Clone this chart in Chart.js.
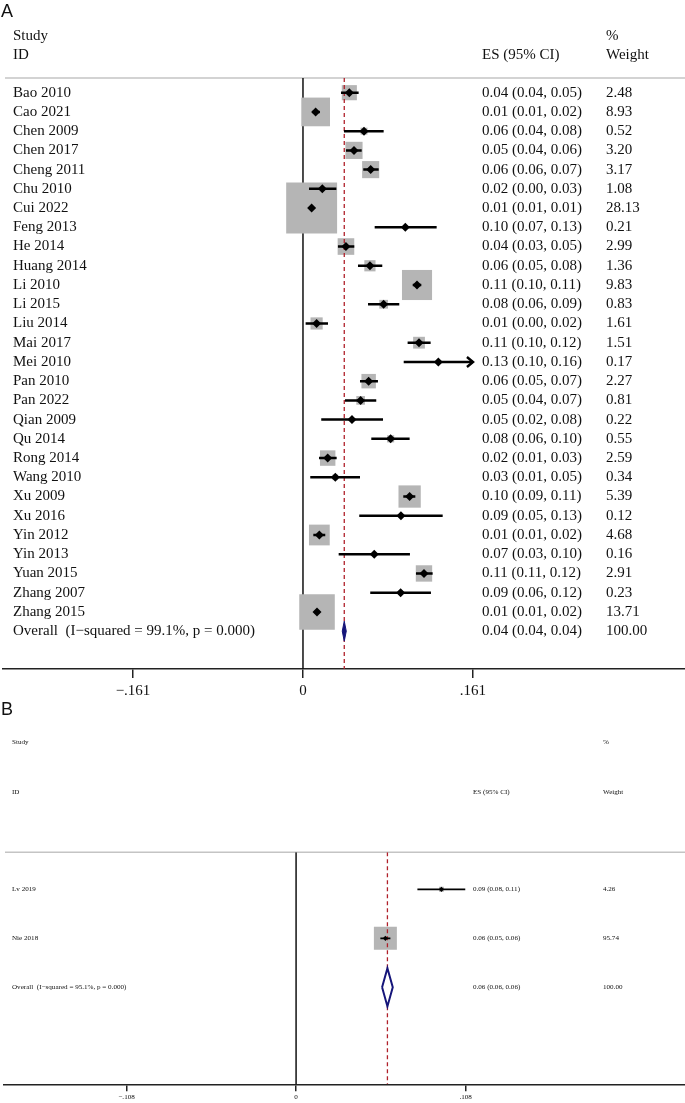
<!DOCTYPE html>
<html>
<head>
<meta charset="utf-8">
<script src="https://cdn.jsdelivr.net/npm/chart.js@4.4.1/dist/chart.umd.min.js"></script>
<style>
  body { margin: 0; background: #fff; width: 685px; height: 1103px; position: relative; overflow: hidden; }
  canvas { position: absolute; left: 0; }
  #forestA { top: 0; }
  #forestB { top: 700px; }
</style>
</head>
<body>
<canvas id="forestA" width="685" height="700"></canvas>
<canvas id="forestB" width="685" height="403"></canvas>
<script>
// ── Panel A ──
const STUDIES_A = ['Bao 2010', 'Cao 2021', 'Chen 2009', 'Chen 2017', 'Cheng 2011', 'Chu 2010', 'Cui 2022',
    'Feng 2013', 'He 2014', 'Huang 2014', 'Li 2010', 'Li 2015', 'Liu 2014', 'Mai 2017', 'Mei 2010',
    'Pan 2010', 'Pan 2022', 'Qian 2009', 'Qu 2014', 'Rong 2014', 'Wang 2010', 'Xu 2009', 'Xu 2016',
    'Yin 2012', 'Yin 2013', 'Yuan 2015', 'Zhang 2007', 'Zhang 2015'];
const ES_A = [0.0439, 0.0120, 0.0578, 0.0483, 0.0641, 0.0183, 0.0082, 0.0969, 0.0407, 0.0634, 0.1080, 0.0764,
    0.0129, 0.1099, 0.1282, 0.0622, 0.0546, 0.0464, 0.0830, 0.0234, 0.0306, 0.1010, 0.0928, 0.0155, 0.0675,
    0.1146, 0.0925, 0.0133];
const LO_A = [0.0360, 0.0090, 0.0388, 0.0407, 0.0571, 0.0057, 0.0074, 0.0679, 0.0331, 0.0521, 0.1040, 0.0616,
    0.0025, 0.0991, 0.0954, 0.0540, 0.0398, 0.0173, 0.0647, 0.0152, 0.0069, 0.0950, 0.0533, 0.0098, 0.0338,
    0.1070, 0.0637, 0.0105];
const HI_A = [0.0527, 0.0160, 0.0764, 0.0556, 0.0717, 0.0316, 0.0090, 0.1266, 0.0486, 0.0751, 0.1120, 0.0912,
    0.0237, 0.1209, 0.1630, 0.0710, 0.0694, 0.0758, 0.1010, 0.0319, 0.0540, 0.1064, 0.1323, 0.0211, 0.1013,
    0.1228, 0.1212, 0.0160];
const WEIGHT_A = [2.48, 8.93, 0.52, 3.20, 3.17, 1.08, 28.13, 0.21, 2.99, 1.36, 9.83, 0.83, 1.61, 1.51, 0.17,
    2.27, 0.81, 0.22, 0.55, 2.59, 0.34, 5.39, 0.12, 4.68, 0.16, 2.91, 0.23, 13.71];
const ES_TEXT_A = ['0.04 (0.04, 0.05)', '0.01 (0.01, 0.02)', '0.06 (0.04, 0.08)', '0.05 (0.04, 0.06)',
    '0.06 (0.06, 0.07)', '0.02 (0.00, 0.03)', '0.01 (0.01, 0.01)', '0.10 (0.07, 0.13)', '0.04 (0.03, 0.05)',
    '0.06 (0.05, 0.08)', '0.11 (0.10, 0.11)', '0.08 (0.06, 0.09)', '0.01 (0.00, 0.02)', '0.11 (0.10, 0.12)',
    '0.13 (0.10, 0.16)', '0.06 (0.05, 0.07)', '0.05 (0.04, 0.07)', '0.05 (0.02, 0.08)', '0.08 (0.06, 0.10)',
    '0.02 (0.01, 0.03)', '0.03 (0.01, 0.05)', '0.10 (0.09, 0.11)', '0.09 (0.05, 0.13)', '0.01 (0.01, 0.02)',
    '0.07 (0.03, 0.10)', '0.11 (0.11, 0.12)', '0.09 (0.06, 0.12)', '0.01 (0.01, 0.02)'];
const OVERALL_A = [0.0391, 0.0372, 0.0410];   // es, lo, hi
const OVERALL_LABEL_A = 'Overall  (I\u2212squared = 99.1%, p = 0.000)';
const OVERALL_TEXT_A = ['0.04 (0.04, 0.04)', '100.00'];
const TICKS_A = [-0.161, 0, 0.161];
const TICK_LABELS_A = ['\u2212.161', '0', '.161'];

// ── Panel B ──
const STUDIES_B = ['Lv 2019', 'Nie 2018'];
const ES_B = [0.0926, 0.0569];
const LO_B = [0.0773, 0.0537];
const HI_B = [0.1078, 0.0601];
const WEIGHT_B = [4.26, 95.74];
const ES_TEXT_B = ['0.09 (0.08, 0.11)', '0.06 (0.05, 0.06)'];
const OVERALL_B = [0.0582, 0.0548, 0.0616];
const OVERALL_LABEL_B = 'Overall  (I\u2212squared = 95.1%, p = 0.000)';
const OVERALL_TEXT_B = ['0.06 (0.06, 0.06)', '100.00'];
const TICKS_B = [-0.108, 0, 0.108];
const TICK_LABELS_B = ['\u2212.108', '0', '.108'];

const SERIF = '"Liberation Serif", "Times New Roman", serif';

// Header texts, study labels, ES/weight columns and the clipped-CI arrowheads.
const forestText = {
    id: 'forestText',
    beforeDatasetsDraw(chart, args, o) {
        const { ctx, chartArea } = chart;
        ctx.save();
        ctx.strokeStyle = '#c4c4c4';
        ctx.lineWidth = 1.5;
        ctx.beginPath();
        ctx.moveTo(o.lineLeft, chartArea.top);
        ctx.lineTo(chart.width, chartArea.top);
        ctx.stroke();
        ctx.restore();
    },
    afterDatasetsDraw(chart, args, o) {
        const { ctx, scales: { x, y } } = chart;
        ctx.save();
        ctx.fillStyle = '#111';
        ctx.textBaseline = 'middle';
        ctx.textAlign = 'left';

        ctx.font = `${o.letterSize}px "Liberation Sans", Arial, sans-serif`;
        ctx.fillText(o.letter, 1, o.letterY);

        ctx.font = `${o.fontSize}px ${SERIF}`;
        ctx.fillText('Study', o.labelX, o.headY1);
        ctx.fillText('ID', o.labelX, o.headY2);
        ctx.fillText('ES (95% CI)', o.esX, o.headY2);
        ctx.fillText('%', o.wX, o.headY1);
        ctx.fillText('Weight', o.wX, o.headY2);

        o.studies.forEach((s, i) => {
            const py = y.getPixelForValue(i);
            ctx.fillText(s, o.labelX, py);
            ctx.fillText(o.esText[i], o.esX, py);
            ctx.fillText(o.weights[i].toFixed(2), o.wX, py);
        });
        const oy = y.getPixelForValue(o.studies.length);
        ctx.fillText(o.overallLabel, o.labelX, oy);
        ctx.fillText(o.overallText[0], o.esX, oy);
        ctx.fillText(o.overallText[1], o.wX, oy);

        // arrowheads where the CI runs past the last tick
        ctx.strokeStyle = '#000';
        ctx.lineWidth = o.ciWidth;
        o.hi.forEach((h, i) => {
            if (h <= o.clip) return;
            const px = x.getPixelForValue(o.clip), py = y.getPixelForValue(i);
            ctx.beginPath();
            ctx.moveTo(px - 6, py - 5);
            ctx.lineTo(px, py);
            ctx.lineTo(px - 6, py + 5);
            ctx.stroke();
        });
        ctx.restore();
    }
};

function forestChart(id, p) {
    const n = p.studies.length;
    const ciData = [];
    p.lo.forEach((lo, i) => {
        ciData.push({ x: lo, y: i }, { x: Math.min(p.hi[i], p.clip), y: i }, { x: null, y: null });
    });
    const [oEs, oLo, oHi] = p.overall;
    const diamond = [
        { x: oLo, y: n }, { x: oEs, y: n - p.diamondHalf }, { x: oHi, y: n },
        { x: oEs, y: n + p.diamondHalf }, { x: oLo, y: n }
    ];

    return new Chart(document.getElementById(id), {
        type: 'scatter',
        data: {
            datasets: [
                {   // overall diamond
                    type: 'line', data: diamond, order: 1, pointRadius: 0, tension: 0,
                    borderColor: '#15157a', borderWidth: p.diamondBorder,
                    backgroundColor: p.diamondFill, fill: 'shape'
                },
                {   // point estimates
                    data: p.es.map((v, i) => ({ x: v, y: i })), order: 2,
                    pointStyle: 'rectRot', pointRadius: p.markerR, backgroundColor: '#000', borderWidth: 0
                },
                {   // confidence intervals
                    type: 'line', data: ciData, order: 3, pointRadius: 0, spanGaps: false,
                    borderColor: '#000', borderWidth: p.ciWidth, fill: false
                },
                {   // overall effect reference line
                    type: 'line', data: [{ x: oEs, y: p.yMin }, { x: oEs, y: p.yMax }], order: 4,
                    pointRadius: 0, borderColor: '#b0202a', borderWidth: 1.3, borderDash: [4, 3], fill: false
                },
                {   // weight boxes
                    data: p.es.map((v, i) => ({ x: v, y: i })), order: 5,
                    pointStyle: 'rect', backgroundColor: '#b5b5b5', borderWidth: 0,
                    pointRadius: p.weights.map(w => p.boxK * Math.sqrt(w) / Math.SQRT2)
                },
                {   // null line
                    type: 'line', data: [{ x: 0, y: p.yMin }, { x: 0, y: p.yMax }], order: 6,
                    pointRadius: 0, borderColor: '#111', borderWidth: 1.5, fill: false
                }
            ]
        },
        options: {
            responsive: false,
            animation: false,
            devicePixelRatio: 1,
            events: [],
            layout: { autoPadding: false, padding: { top: p.padTop, left: p.padLeft, right: 0, bottom: 0 } },
            plugins: {
                legend: { display: false },
                tooltip: { enabled: false },
                forestText: {
                    letter: p.letter, letterY: p.letterY, letterSize: 18,
                    fontSize: p.fontSize, labelX: p.labelX, esX: p.esX, wX: p.wX,
                    headY1: p.headY1, headY2: p.headY2, lineLeft: 5,
                    studies: p.studies, esText: p.esText, weights: p.weights,
                    overallLabel: p.overallLabel, overallText: p.overallText,
                    hi: p.hi, clip: p.clip, ciWidth: p.ciWidth
                }
            },
            scales: {
                x: {
                    type: 'linear', position: 'bottom', min: p.xMin, max: p.xMax,
                    afterBuildTicks: s => { s.ticks = p.ticks.map(v => ({ value: v })); },
                    afterFit: s => { s.height = p.axisHeight; s.paddingLeft = 0; s.paddingRight = 0; },
                    grid: { display: true, drawOnChartArea: false, drawTicks: true, tickLength: p.tickLen, color: '#222', lineWidth: 1.5 },
                    border: { display: true, color: '#222', width: 1.5 },
                    ticks: {
                        autoSkip: false, maxRotation: 0, padding: p.tickPad, color: '#111',
                        font: { family: SERIF, size: p.fontSize },
                        callback: (v, i) => p.tickLabels[i]
                    }
                },
                y: { type: 'linear', reverse: true, min: p.yMin, max: p.yMax, display: false }
            }
        },
        plugins: [forestText]
    });
}

forestChart('forestA', {
    letter: 'A', letterY: 12, fontSize: 15, labelX: 13, esX: 482, wX: 606, headY1: 36, headY2: 55,
    studies: STUDIES_A, es: ES_A, lo: LO_A, hi: HI_A, weights: WEIGHT_A, esText: ES_TEXT_A,
    overall: OVERALL_A, overallLabel: OVERALL_LABEL_A, overallText: OVERALL_TEXT_A,
    ticks: TICKS_A, tickLabels: TICK_LABELS_A, clip: 0.161,
    xMin: -0.2841, xMax: 0.3618, yMin: -0.764, yMax: 29.968,
    padTop: 78, padLeft: 3, axisHeight: 31, tickLen: 9, tickPad: 4,
    boxK: 9.6, markerR: 4.5, ciWidth: 2.5, diamondHalf: 0.52, diamondBorder: 1, diamondFill: '#15157a'
});

forestChart('forestB', {
    letter: 'B', letterY: 10, fontSize: 7.1, labelX: 12, esX: 473, wX: 603, headY1: 42, headY2: 92,
    studies: STUDIES_B, es: ES_B, lo: LO_B, hi: HI_B, weights: WEIGHT_B, esText: ES_TEXT_B,
    overall: OVERALL_B, overallLabel: OVERALL_LABEL_B, overallText: OVERALL_TEXT_B,
    ticks: TICKS_B, tickLabels: TICK_LABELS_B, clip: 0.108,
    xMin: -0.1861, xMax: 0.2478, yMin: -0.755, yMax: 3.980,
    padTop: 152.3, padLeft: 4, axisHeight: 18.7, tickLen: 7, tickPad: 2,
    boxK: 2.35, markerR: 2.6, ciWidth: 1.7, diamondHalf: 0.39, diamondBorder: 2, diamondFill: '#ffffff'
});
</script>
</body>
</html>
